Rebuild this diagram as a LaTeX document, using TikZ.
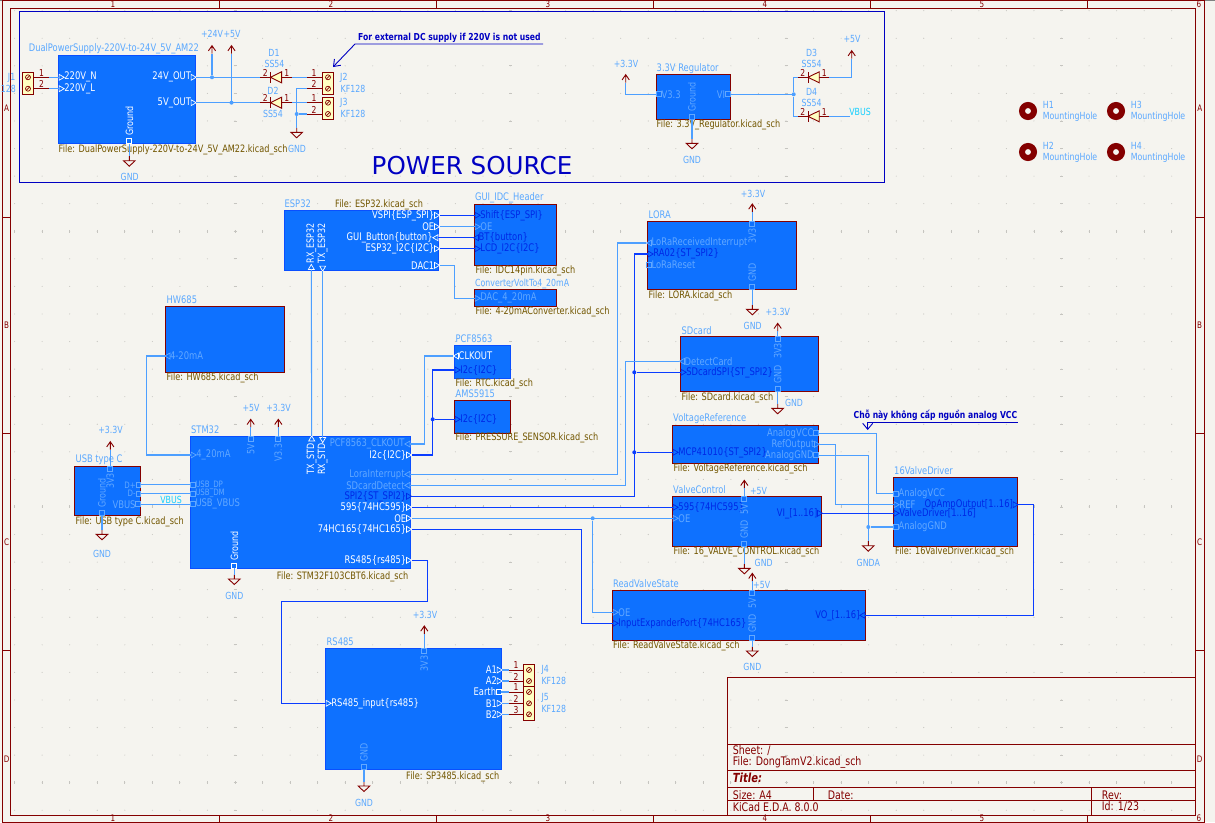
\documentclass[tikz,border=0pt]{standalone}
\usepackage{fontspec}
\setmainfont{DejaVu Sans}[FakeStretch=0.8]
\newfontfamily\bigfont{DejaVu Sans}
\usetikzlibrary{shapes.geometric,arrows.meta}

\definecolor{paperbg}{HTML}{F5F4EF}
\definecolor{griddot}{HTML}{C6C5C0}
\definecolor{symred}{HTML}{840000}
\definecolor{termfill}{HTML}{FFFFC2}
\definecolor{sheetfill}{HTML}{0E71FF}
\definecolor{sheetline}{HTML}{0A4FFF}
\definecolor{wireblue}{HTML}{4D9FFF}
\definecolor{busblue}{HTML}{0A3CFF}
\definecolor{busdark}{HTML}{0028E6}
\definecolor{pindim}{HTML}{62A8FF}
\definecolor{netblue}{HTML}{5AA8FF}
\definecolor{filebrown}{HTML}{725600}
\definecolor{noteblue}{HTML}{0000C2}
\definecolor{vbuscyan}{HTML}{14CFFF}

\tikzset{
  sheetr/.style 2 args={draw=symred,fill=sheetfill,line width=0.9,minimum width=#1,minimum height=#2,anchor=north west,inner sep=0,outer sep=0},
  sheetb/.style 2 args={draw=sheetline,fill=sheetfill,line width=0.9,minimum width=#1,minimum height=#2,anchor=north west,inner sep=0,outer sep=0},
  pinbase/.style={inner sep=0,outer sep=0,line width=0.7,label distance=1.6},
  pinbox/.style={pinbase,rectangle,minimum size=5},
  pindia/.style={pinbase,regular polygon,regular polygon sides=4,minimum size=6.5},
  pinr/.style={pinbase,regular polygon,regular polygon sides=3,minimum size=6.8,shape border rotate=-90},
  pinl/.style={pinbase,regular polygon,regular polygon sides=3,minimum size=6.8,shape border rotate=90},
  pinu/.style={pinbase,regular polygon,regular polygon sides=3,minimum size=6.8},
  pind/.style={pinbase,regular polygon,regular polygon sides=3,minimum size=6.8,shape border rotate=180},
  pinlbl/.style={inner sep=0,font=\fontsize{10.5}{11}\selectfont},
  pinlblv/.style={inner sep=0,font=\fontsize{10}{11}\selectfont,rotate=90},
  wl/.style={draw=white,label={[pinlbl,text=white]#1}},
  dl/.style={draw=pindim,label={[pinlbl,text=pindim]#1}},
  dlsmall/.style={draw=pindim,label={[pinlbl,text=pindim,font=\fontsize{8.8}{9}\selectfont]#1}},
  bl/.style={draw=busdark,label={[pinlbl,text=busdark]#1}},
  sheetname/.style={inner sep=0,anchor=west,text=netblue,font=\fontsize{10.4}{11}\selectfont},
  sheetfile/.style={inner sep=0,anchor=west,text=filebrown,font=\fontsize{10.2}{11}\selectfont},
  netlbl/.style={inner sep=0,text=netblue,font=\fontsize{9.8}{11}\selectfont},
  reflbl/.style={netlbl,anchor=west},
  smalllbl/.style={inner sep=0,anchor=west,text=netblue,font=\fontsize{9.8}{11}\selectfont},
  pinnum/.style={inner sep=0,text=symred,font=\fontsize{9.5}{11}\selectfont},
  frametxt/.style={inner sep=0,text=symred,font=\fontsize{9}{10}\selectfont},
  blocktxt/.style={inner sep=0,anchor=west,text=symred,font=\fontsize{11.8}{12}\selectfont},
  notetxt/.style={inner sep=0,anchor=west,text=noteblue,font=\bfseries\fontsize{#1}{11}\selectfont},
  wire/.style={draw=wireblue,line width=1.1},
  bus/.style={draw=busblue,line width=1.3},
  symb/.style={draw=symred,line width=0.9},
  junc/.style={circle,fill=wireblue,inner sep=0,minimum size=4},
  juncb/.style={circle,fill=busblue,inner sep=0,minimum size=4},
  termbox/.style={symb,fill=termfill,minimum width=11.4,anchor=north west,inner sep=0,outer sep=0},
  screw/.style={circle,draw=symred,line width=0.7,inner sep=0,minimum size=5,path picture={\draw[symred,line width=0.7] (path picture bounding box.south west) -- (path picture bounding box.north east);}},
  hole/.style={circle,draw=symred,line width=6,inner sep=0,minimum size=12},
  pwrarrow/.pic={
    \coordinate (-base) at (0,8);
    \draw[symb] (0,8) -- (0,0) (-3.6,5.2) -- (0,0) -- (3.6,5.2);
  },
  gndsym/.pic={
    \coordinate (-base) at (0,-4.5);
    \draw[symb] (0,-4.5) -- (0,0) (-5.8,0) -- (5.8,0) -- (0,5.5) -- cycle;
  },
  diode/.pic={
    \coordinate (-a) at (-15.8,0);
    \coordinate (-k) at (15.8,0);
    \draw[symb] (-15.8,0) -- (-5.6,0) (5.6,0) -- (15.8,0) (-5.6,-5.5) -- (-5.6,5.5);
    \draw[symb,fill=termfill] (-5.6,0) -- (5.6,-5.5) -- (5.6,5.5) -- cycle;
    \node[pinnum] (-n2) at (-10.8,-4.4) {2};
    \node[pinnum] (-n1) at (10.8,-4.4) {1};
  }
}

\begin{document}
\begin{tikzpicture}[x=1pt,y=-1pt]
  \useasboundingbox (0,0) rectangle (1215,822);
  \fill[paperbg] (0,0) rectangle (1215,822);

  % grid
  \foreach \i in {0,...,42}
    \foreach \j in {0,...,29}
      \fill[griddot] (14.6+27.55*\i,10.7+27.57*\j) circle (0.55);
  \foreach \i in {8,18,28,38}
    \foreach \j in {0,...,29}
      \draw[griddot,line width=0.9] (13.1+27.55*\i,10.7+27.57*\j) -- (16.1+27.55*\i,10.7+27.57*\j);
  \foreach \j in {8,18,28}
    \foreach \i in {0,...,42}
      \draw[griddot,line width=0.9] (14.6+27.55*\i,9.2+27.57*\j) -- (14.6+27.55*\i,12.2+27.57*\j);

  % page frame
  \draw[gray] (0,0.4) -- (1215,0.4);
  \draw[symred,line width=0.9] (2.7,0.9) rectangle (1204.3,822.5);
  \draw[symred,line width=0.9] (10.7,8.5) rectangle (1195.3,815.3);
  \foreach \xx in {219.5,436.3,653.3,870.3,1087.3} {
    \draw[symred,line width=0.9] (\xx,0.9) -- (\xx,8.5);
    \draw[symred,line width=0.9] (\xx,815.3) -- (\xx,822);
  }
  \foreach \yy in {217,433.5,650.5} {
    \draw[symred,line width=0.9] (2.7,\yy) -- (10.7,\yy);
    \draw[symred,line width=0.9] (1195.3,\yy) -- (1204.3,\yy);
  }
  \foreach \xx/\cc in {113/1,331/2,548/3,765/4,982/5,1199/6} {
    \node[frametxt] (colt\cc) at (\xx,4.6) {\cc};
    \node[frametxt] (colb\cc) at (\xx,818.6) {\cc};
  }
  \foreach \yy/\rr in {108.3/A,325/B,542/C,759/D} {
    \node[frametxt] (rowl\rr) at (6.7,\yy) {\rr};
    \node[frametxt] (rowr\rr) at (1199.7,\yy) {\rr};
  }

  % title block
  \draw[symred,line width=0.9] (727.3,677) rectangle (1195.3,815.3);
  \draw[symred,line width=0.9] (727.3,744.3) -- (1195.3,744.3) (727.3,770.3) -- (1195.3,770.3) (727.3,787.3) -- (1195.3,787.3) (727.3,800.3) -- (1195.3,800.3);
  \draw[symred,line width=0.9] (813.7,787.3) -- (813.7,800.3) (1091.3,787.3) -- (1091.3,815.3);
  \node[blocktxt] (tbsheet) at (732.7,750.7) {Sheet: /};
  \node[blocktxt] (tbfile) at (732.7,762.7) {File: DongTamV2.kicad\_sch};
  \node[blocktxt,font=\bfseries\itshape\fontsize{12.5}{13}\selectfont] (tbtitle) at (732.7,778.3) {Title:};
  \node[blocktxt] (tbsize) at (732.7,795) {Size: A4};
  \node[blocktxt] (tbdate) at (827.7,795) {Date:};
  \node[blocktxt] (tbrev) at (1101.7,795) {Rev:};
  \node[blocktxt] (tbkicad) at (732.7,806.7) {KiCad E.D.A. 8.0.0};
  \node[blocktxt] (tbid) at (1101.7,806.7) {Id: 1/23};

  % power source frame and notes
  \draw[noteblue,line width=0.9] (19.4,11.4) rectangle (884.4,182.4);
  \node[inner sep=0,text=noteblue,font=\bigfont\fontsize{24.6}{28}\selectfont] (powertitle) at (472,166) {POWER SOURCE};
  \node[notetxt=9.6] (note1) at (358,38) {For external DC supply if 220V is not used};
  \coordinate (note1a) at (543,44);
  \coordinate (note1b) at (355,44);
  \coordinate (note1c) at (333,67);
  \draw[noteblue,line width=0.9,-{Straight Barb[length=6,width=9]}] (note1a) -- (note1b) -- (note1c);
  \node[notetxt=9.6] (note2) at (853.5,415.7) {Chỗ này không cấp nguồn analog VCC};
  \coordinate (note2a) at (1017.7,422.3);
  \coordinate (note2b) at (867.7,422.3);
  \coordinate (note2c) at (867.7,430);
  \draw[noteblue,line width=0.9,-{Straight Barb[length=6,width=10]}] (note2a) -- (note2b) -- (note2c);

  % sheets
  \node[sheetb={137}{88.4}] (dual) at (58.3,55.3) {};
  \node[sheetr={74}{44.6}] (reg) at (656.3,74.7) {};
  \node[sheetb={154.4}{59.6}] (esp) at (284.3,210.7) {};
  \node[sheetr={82.4}{60.6}] (gui) at (474.3,204.7) {};
  \node[sheetr={82.4}{17}] (conv) at (474.3,289.3) {};
  \node[sheetr={118.6}{65.6}] (hw) at (165.7,306.7) {};
  \node[sheetb={56.4}{32.6}] (pcf) at (454.3,345.7) {};
  \node[sheetr={56.4}{33}] (ams) at (454.3,400.3) {};
  \node[sheetb={220.4}{131.6}] (stm) at (190.3,436.7) {};
  \node[sheetr={66.4}{49}] (usb) at (74.3,466.3) {};
  \node[sheetb={176}{120.6}] (rs) at (325.3,648.7) {};
  \node[sheetr={149.4}{68}] (lora) at (647.3,221.3) {};
  \node[sheetr={138.4}{55}] (sd) at (680.3,336.3) {};
  \node[sheetr={146.4}{38}] (vr) at (672.3,425.3) {};
  \node[sheetr={149.4}{49.6}] (vc) at (672.3,496.7) {};
  \node[sheetr={124}{69}] (vd) at (893.3,477.3) {};
  \node[sheetr={253.4}{49.6}] (rv) at (612.3,590.7) {};

  % sheet names and files
  \node[sheetname] (dualname) at (28.7,49) {DualPowerSupply-220V-to-24V\_5V\_AM22};
  \node[sheetfile] (dualfile) at (58.5,149.5) {File: DualPowerSupply-220V-to-24V\_5V\_AM22.kicad\_sch};
  \node[sheetname] (regname) at (656.5,69) {3.3V Regulator};
  \node[sheetfile] (regfile) at (656.5,125) {File: 3.3V\_Regulator.kicad\_sch};
  \node[sheetname] (espname) at (284.5,203.7) {ESP32};
  \node[sheetfile] (espfile) at (335,204.7) {File: ESP32.kicad\_sch};
  \node[sheetname] (guiname) at (475,198) {GUI\_IDC\_Header};
  \node[sheetfile] (guifile) at (475.5,270.7) {File: IDC14pin.kicad\_sch};
  \node[sheetname,font=\fontsize{9.8}{11}\selectfont] (convname) at (475,284) {ConverterVoltTo4\_20mA};
  \node[sheetfile] (convfile) at (475.5,312) {File: 4-20mAConverter.kicad\_sch};
  \node[sheetname] (hwname) at (166.5,300) {HW685};
  \node[sheetfile] (hwfile) at (166.5,378) {File: HW685.kicad\_sch};
  \node[sheetname] (pcfname) at (455.5,338.7) {PCF8563};
  \node[sheetfile] (pcffile) at (455.5,383.7) {File: RTC.kicad\_sch};
  \node[sheetname] (amsname) at (455.5,393.3) {AMS5915};
  \node[sheetfile] (amsfile) at (455.5,438.3) {File: PRESSURE\_SENSOR.kicad\_sch};
  \node[sheetname] (stmname) at (191,429.3) {STM32};
  \node[sheetfile] (stmfile) at (276.7,576.7) {File: STM32F103CBT6.kicad\_sch};
  \node[sheetname] (usbname) at (75.5,460) {USB type C};
  \node[sheetfile] (usbfile) at (75.5,521.7) {File: USB type C.kicad\_sch};
  \node[sheetname] (rsname) at (326.5,641.7) {RS485};
  \node[sheetfile] (rsfile) at (406,776.7) {File: SP3485.kicad\_sch};
  \node[sheetname] (loraname) at (648.5,214.7) {LORA};
  \node[sheetfile] (lorafile) at (648.5,295.7) {File: LORA.kicad\_sch};
  \node[sheetname] (sdname) at (681.5,330.7) {SDcard};
  \node[sheetfile] (sdfile) at (681.5,397.7) {File: SDcard.kicad\_sch};
  \node[sheetname] (vrname) at (673,418.7) {VoltageReference};
  \node[sheetfile] (vrfile) at (673.5,469) {File: VoltageReference.kicad\_sch};
  \node[sheetname] (vcname) at (673,490) {ValveControl};
  \node[sheetfile] (vcfile) at (673.5,551.7) {File: 16\_VALVE\_CONTROL.kicad\_sch};
  \node[sheetname] (vdname) at (894,471) {16ValveDriver};
  \node[sheetfile] (vdfile) at (895,551.7) {File: 16ValveDriver.kicad\_sch};
  \node[sheetname] (rvname) at (613,584) {ReadValveState};
  \node[sheetfile] (rvfile) at (613,645.7) {File: ReadValveState.kicad\_sch};

  % pins
  \node[pinr,wl={right:220V\_N}] (dualn) at (60.8,77.3) {};
  \node[pinr,wl={right:220V\_L}] (duall) at (60.8,88.7) {};
  \node[pinr,wl={left:24V\_OUT}] (dual24) at (192.8,77.3) {};
  \node[pinr,wl={left:5V\_OUT}] (dual5) at (192.8,102.7) {};
  \node[pinbox,draw=white] (dualgnd) at (129.3,141) {};
  \node[pinlblv,text=white,anchor=west] (dualgndt) at (129.3,136) {Ground};

  \node[pinbox,dl={right:V3.3}] (regv33) at (658.8,94.3) {};
  \node[pinbox,dl={left:VI}] (regvi) at (727.8,94.3) {};
  \node[pinbox,draw=pindim] (reggnd) at (692,116.8) {};
  \node[pinlblv,text=pindim,anchor=west] (reggndt) at (692,112) {Ground};

  \node[pinr,wl={left:VSPI\{ESP\_SPI\}}] (espspi) at (436.2,215.3) {};
  \node[pinr,wl={left:OE}] (espoe) at (436.2,226.7) {};
  \node[pinl,wl={left:GUI\_Button\{button\}}] (espbtn) at (436.2,237.7) {};
  \node[pinr,wl={left:ESP32\_I2C\{I2C\}}] (espi2c) at (436.2,248.7) {};
  \node[pinr,wl={left:DAC1}] (espdac) at (436.2,265.3) {};
  \node[pinu,draw=white] (esprx) at (311.3,267.8) {};
  \node[pinlblv,text=white,anchor=west] (esprxt) at (311.3,263.5) {RX\_ESP32};
  \node[pind,draw=white] (esptx) at (322.7,267.8) {};
  \node[pinlblv,text=white,anchor=west] (esptxt) at (322.7,263.5) {TX\_ESP32};

  \node[pinr,bl={right:Shift\{ESP\_SPI\}}] (guispi) at (476.8,215.3) {};
  \node[pinr,dl={right:OE}] (guioe) at (476.8,226.7) {};
  \node[pinl,bl={right:BT\{button\}}] (guibtn) at (476.8,237.7) {};
  \node[pinr,bl={right:LCD\_I2C\{I2C\}}] (guii2c) at (476.8,248.7) {};
  \node[pinr,dl={right:DAC\_4\_20mA}] (convdac) at (476.8,298.3) {};
  \node[pinl,dl={right:4-20mA}] (hwma) at (168.2,356) {};
  \node[pinl,wl={right:CLKOUT}] (pcfclk) at (456.8,356) {};
  \node[pinr,bl={right:I2c\{I2C\}}] (pcfi2c) at (456.8,370) {};
  \node[pinr,bl={right:I2c\{I2C\}}] (amsi2c) at (456.8,419.3) {};

  \node[pinl,dl={left:PCF8563\_CLKOUT}] (stmclk) at (408.2,444) {};
  \node[pinr,wl={left:I2c\{I2C\}}] (stmi2c) at (408.2,455) {};
  \node[pinl,dl={left:LoraInterrupt}] (stmlora) at (408.2,474.3) {};
  \node[pinl,dl={left:SDcardDetect}] (stmsd) at (408.2,485.3) {};
  \node[pinr,bl={left:SPI2\{ST\_SPI2\}}] (stmspi) at (408.2,496.3) {};
  \node[pinr,wl={left:595\{74HC595\}}] (stm595) at (408.2,507.3) {};
  \node[pinr,wl={left:OE}] (stmoe) at (408.2,518.3) {};
  \node[pinr,wl={left:74HC165\{74HC165\}}] (stmhc) at (408.2,529.3) {};
  \node[pinr,wl={left:RS485\{rs485\}}] (stmrs) at (408.2,560.3) {};
  \node[pinr,dl={right:4\_20mA}] (stmma) at (192.8,455) {};
  \node[pindia,dlsmall={right:USB\_DP}] (stmdp) at (192.8,484.9) {};
  \node[pindia,dlsmall={right:USB\_DM}] (stmdm) at (192.8,493.7) {};
  \node[pinbox,dl={right:USB\_VBUS}] (stmvbus) at (192.8,504.3) {};
  \node[pinbox,draw=pindim] (stm5v) at (250.7,439.2) {};
  \node[pinlblv,text=pindim,anchor=east] (stm5vt) at (250.7,443.5) {5V};
  \node[pinbox,draw=pindim] (stm33) at (278.3,439.2) {};
  \node[pinlblv,text=pindim,anchor=east] (stm33t) at (278.3,443.5) {V3.3};
  \node[pinu,draw=white] (stmtx) at (311.7,439.2) {};
  \node[pinlblv,text=white,anchor=east] (stmtxt) at (311.7,443.5) {TX\_STD};
  \node[pind,draw=white] (stmrx) at (322.7,439.2) {};
  \node[pinlblv,text=white,anchor=east] (stmrxt) at (322.7,443.5) {RX\_STD};
  \node[pinbox,draw=white] (stmgnd) at (234.3,565.8) {};
  \node[pinlblv,text=white,anchor=west] (stmgndt) at (234.3,561) {Ground};

  \node[pindia,dlsmall={left:D+}] (usbdp) at (138.2,484.9) {};
  \node[pindia,dlsmall={left:D-}] (usbdm) at (138.2,493.7) {};
  \node[pinbox,dl={left:VBUS}] (usbvbus) at (138.2,504.3) {};
  \node[pinbox,draw=pindim] (usb33) at (110.3,468.8) {};
  \node[pinlblv,text=pindim,anchor=east] (usb33t) at (110.3,473) {3V3};
  \node[pinbox,draw=pindim] (usbgnd) at (102,512.8) {};
  \node[pinlblv,text=pindim,anchor=west] (usbgndt) at (102,508) {Ground};

  \node[pinr,wl={right:RS485\_input\{rs485\}}] (rsin) at (327.8,703.3) {};
  \node[pinr,wl={left:A1}] (rsa1) at (498.8,670) {};
  \node[pinr,wl={left:A2}] (rsa2) at (498.8,681) {};
  \node[pinbox,wl={left:Earth}] (rsearth) at (498.8,692) {};
  \node[pinr,wl={left:B1}] (rsb1) at (498.8,703.3) {};
  \node[pinr,wl={left:B2}] (rsb2) at (498.8,714.3) {};
  \node[pinbox,draw=pindim] (rs33) at (424.3,651.2) {};
  \node[pinlblv,text=pindim,anchor=east] (rs33t) at (424.3,655.5) {3V3};
  \node[pinbox,draw=pindim] (rsgnd) at (364,766.8) {};
  \node[pinlblv,text=pindim,anchor=west] (rsgndt) at (364,762) {GND};

  \node[pinl,dl={right:LoRaReceivedInterrupt}] (lorairq) at (649.8,243) {};
  \node[pinr,bl={right:RA02\{ST\_SPI2\}}] (lorara) at (649.8,254) {};
  \node[pinbox,dl={right:LoRaReset}] (lorarst) at (648.8,265) {};
  \node[pinbox,draw=pindim] (lora33) at (752.3,223.8) {};
  \node[pinlblv,text=pindim,anchor=east] (lora33t) at (752.3,228) {3V3};
  \node[pinbox,draw=pindim] (loragnd) at (752.3,286.8) {};
  \node[pinlblv,text=pindim,anchor=west] (loragndt) at (752.3,282) {GND};

  \node[pinl,dl={right:DetectCard}] (sddet) at (682.8,361.3) {};
  \node[pinr,bl={right:SDcardSPI\{ST\_SPI2\}}] (sdspi) at (682.8,372.3) {};
  \node[pinbox,draw=pindim] (sd33) at (777.7,338.8) {};
  \node[pinlblv,text=pindim,anchor=east] (sd33t) at (777.7,343) {3V3};
  \node[pinbox,draw=pindim] (sdgnd) at (777.7,388.8) {};
  \node[pinlblv,text=pindim,anchor=west] (sdgndt) at (777.7,384) {GND};

  \node[pinr,bl={right:MCP41010\{ST\_SPI2\}}] (vrspi) at (674.8,452.3) {};
  \node[pinbox,dl={left:AnalogVCC}] (vrvcc) at (816.2,433.3) {};
  \node[pinr,dl={left:RefOutput}] (vrref) at (816.2,444.3) {};
  \node[pinbox,dl={left:AnalogGND}] (vrgnd) at (816.2,455.3) {};

  \node[pinr,bl={right:595\{74HC595\}}] (vc595) at (674.8,507.3) {};
  \node[pinr,dl={right:OE}] (vcoe) at (674.8,518.3) {};
  \node[pinr,bl={left:VI\_[1..16]}] (vcvi) at (819.2,513.3) {};
  \node[pinbox,draw=pindim] (vc5v) at (744.3,499.2) {};
  \node[pinlblv,text=pindim,anchor=east] (vc5vt) at (744.3,503.5) {5V};
  \node[pinbox,draw=pindim] (vcgnd) at (744.3,543.8) {};
  \node[pinlblv,text=pindim,anchor=west] (vcgndt) at (744.3,539) {GND};

  \node[pinbox,dl={right:AnalogVCC}] (vdvcc) at (895.8,493.7) {};
  \node[pinr,dl={right:REF}] (vdref) at (895.8,504.7) {};
  \node[pinr,bl={right:ValveDriver[1..16]}] (vdin) at (895.8,513.3) {};
  \node[pinbox,dl={right:AnalogGND}] (vdgnd) at (895.8,527) {};
  \node[pinr,bl={left:OpAmpOutput[1..16]}] (vdop) at (1014.8,504.7) {};

  \node[pinr,dl={right:OE}] (rvoe) at (614.8,612.3) {};
  \node[pinr,bl={right:InputExpanderPort\{74HC165\}}] (rvin) at (614.8,623.3) {};
  \node[pinl,bl={left:VO\_[1..16]}] (rvvo) at (863.2,615.3) {};
  \node[pinbox,draw=pindim] (rv5v) at (752.3,593.2) {};
  \node[pinlblv,text=pindim,anchor=east] (rv5vt) at (752.3,597.5) {5V};
  \node[pinbox,draw=pindim] (rvgnd) at (752.3,637.8) {};
  \node[pinlblv,text=pindim,anchor=west] (rvgndt) at (752.3,633) {GND};

  % power symbols
  \pic (p24) at (212,45.7) {pwrarrow};
  \pic (p5a) at (231.5,45.7) {pwrarrow};
  \pic (p33a) at (625.7,74.7) {pwrarrow};
  \pic (p5b) at (851.7,50.7) {pwrarrow};
  \pic (p5c) at (250.7,419.3) {pwrarrow};
  \pic (p33b) at (278.3,419.3) {pwrarrow};
  \pic (p33c) at (110.3,441.7) {pwrarrow};
  \pic (p33d) at (424.3,626) {pwrarrow};
  \pic (p33e) at (752.3,204) {pwrarrow};
  \pic (p33f) at (777.7,323.3) {pwrarrow};
  \pic (p5d) at (744.3,480.3) {pwrarrow};
  \pic (p5e) at (752.3,573.3) {pwrarrow};
  \pic (g1) at (129.3,160.7) {gndsym};
  \pic (g2) at (296.7,132.3) {gndsym};
  \pic (g3) at (692,143.3) {gndsym};
  \pic (g4) at (234.3,579) {gndsym};
  \pic (g5) at (102,534.3) {gndsym};
  \pic (g6) at (364,786) {gndsym};
  \pic (g7) at (752.3,309.3) {gndsym};
  \pic (g8) at (777.7,408.3) {gndsym};
  \pic (g9) at (744.3,568.3) {gndsym};
  \pic (g10) at (752.3,651) {gndsym};
  \pic (g11) at (868.3,545.7) {gndsym};

  \node[netlbl] (l24) at (212,33.5) {+24V};
  \node[netlbl] (l5a) at (232,33.5) {+5V};
  \node[netlbl] (l33a) at (626,64) {+3.3V};
  \node[netlbl] (l5b) at (852,39) {+5V};
  \node[netlbl] (l5c) at (251,408) {+5V};
  \node[netlbl] (l33b) at (278.5,408) {+3.3V};
  \node[netlbl] (l33c) at (110.5,430.3) {+3.3V};
  \node[netlbl] (l33d) at (425,615) {+3.3V};
  \node[netlbl] (l33e) at (753,193.5) {+3.3V};
  \node[netlbl] (l33f) at (777.7,312.3) {+3.3V};
  \node[netlbl] (l5d) at (758.5,491) {+5V};
  \node[netlbl] (l5e) at (761.7,584.7) {+5V};
  \node[netlbl] (lg1) at (129.7,176.7) {GND};
  \node[netlbl] (lg2) at (297,149) {GND};
  \node[netlbl] (lg3) at (692,160) {GND};
  \node[netlbl] (lg4) at (234.3,595.5) {GND};
  \node[netlbl] (lg5) at (102,554) {GND};
  \node[netlbl] (lg6) at (364,802.5) {GND};
  \node[netlbl] (lg7) at (752.7,325.7) {GND};
  \node[netlbl] (lg8) at (794,402.7) {GND};
  \node[netlbl] (lg9) at (763.7,562.7) {GND};
  \node[netlbl] (lg10) at (752.3,667.3) {GND};
  \node[netlbl] (lg11) at (868.3,562.7) {GNDA};
  \node[netlbl,text=vbuscyan] (lvb1) at (860,111.7) {VBUS};
  \node[netlbl,text=vbuscyan] (lvb2) at (171,500) {VBUS};
  \coordinate (vbusend) at (850,116.3);

  % diodes
  \pic (d1) at (276,77.3) {diode};
  \pic (d2) at (276,102.7) {diode};
  \pic (d3) at (813.6,77.3) {diode};
  \pic (d4) at (813.6,116.3) {diode};
  \node[netlbl] (d1ref) at (274,53) {D1};
  \node[netlbl] (d1val) at (274.5,64) {SS54};
  \node[netlbl] (d2ref) at (273,91) {D2};
  \node[netlbl] (d2val) at (273,114) {SS54};
  \node[netlbl] (d3ref) at (811.7,52.7) {D3};
  \node[netlbl] (d3val) at (811.7,64) {SS54};
  \node[netlbl] (d4ref) at (811.7,91.7) {D4};
  \node[netlbl] (d4val) at (811.7,102.7) {SS54};

  % connectors
  \node[termbox,minimum height=22.3] (j1box) at (22.3,72) {};
  \node[termbox,minimum height=22.3] (j2box) at (322.3,72) {};
  \node[termbox,minimum height=22.3] (j3box) at (322.3,97.3) {};
  \node[termbox,minimum height=22] (j4box) at (523.3,664.7) {};
  \node[termbox,minimum height=33.3] (j5box) at (523.3,686.7) {};
  \foreach \yy/\nn in {77.3/1,88.7/2} {
    \draw[symb] (33.7,\yy) -- (49,\yy);
    \node[screw] (j1s\nn) at (28,\yy) {};
    \node[pinnum] (j1n\nn) at (41.5,\yy-4.5) {\nn};
    \coordinate (j1p\nn) at (49,\yy);
  }
  \foreach \pref/\yy/\nn in {j2/77.3/1,j2/88.7/2,j3/102.7/1,j3/114/2} {
    \draw[symb] (307,\yy) -- (322.3,\yy);
    \node[screw] (\pref s\nn) at (328,\yy) {};
    \node[pinnum] (\pref n\nn) at (314,\yy-4.5) {\nn};
    \coordinate (\pref p\nn) at (307,\yy);
  }
  \foreach \pref/\yy/\nn in {j4/670/1,j4/681/2,j5/692/1,j5/703.3/2,j5/714.3/3} {
    \draw[symb] (509.3,\yy) -- (523.3,\yy);
    \node[screw] (\pref s\nn) at (529,\yy) {};
    \node[pinnum] (\pref n\nn) at (516,\yy-4.5) {\nn};
    \coordinate (\pref p\nn) at (509.3,\yy);
  }
  \node[netlbl,anchor=east] (j1ref) at (15.5,77.5) {J1};
  \node[netlbl,anchor=east] (j1val) at (16,88.7) {128};
  \node[reflbl] (j2ref) at (340,77.5) {J2};
  \node[reflbl] (j2val) at (340.5,88.7) {KF128};
  \node[reflbl] (j3ref) at (340,102.7) {J3};
  \node[reflbl] (j3val) at (340.5,114) {KF128};
  \node[reflbl] (j4ref) at (541.3,670) {J4};
  \node[reflbl] (j4val) at (541.3,681) {KF128};
  \node[reflbl] (j5ref) at (541.3,697.5) {J5};
  \node[reflbl] (j5val) at (541.3,708.7) {KF128};

  % mounting holes
  \foreach \nn/\xx/\yy in {1/1028/111,2/1028/152,3/1116/111,4/1116/152} {
    \node[hole] (h\nn) at (\xx,\yy) {};
    \node[smalllbl] (h\nn ref) at (\xx+14.7,\yy-6) {H\nn};
    \node[smalllbl] (h\nn val) at (\xx+14.7,\yy+5.5) {MountingHole};
  }

  % junctions
  \node[junc] (j24v) at (212,77.3) {};
  \node[junc] (j5v) at (231.5,102.7) {};
  \node[junc] (jgnd2) at (296.7,114) {};
  \node[junc] (jvi) at (793.7,94.3) {};
  \node[junc] (jgnda) at (868.3,527) {};
  \node[junc] (joe) at (592.7,518.3) {};
  \node[juncb] (ji2c) at (432.7,419.3) {};
  \node[juncb] (jsdspi) at (634.3,372.3) {};
  \node[juncb] (jvrspi) at (634.3,452.3) {};

  % wires
  \draw[wire] (dualn) -- (j1p1);
  \draw[wire] (duall) -- (j1p2);
  \draw[wire] (dual24) -- (d1-a);
  \draw[wire] (dual5) -- (d2-a);
  \draw[wire] (j24v) -- (p24-base);
  \draw[wire] (j5v) -- (p5a-base);
  \draw[wire] (d1-k) -- (j2p1);
  \draw[wire] (d2-k) -- (j3p1);
  \draw[wire] (j2p2) -| (g2-base);
  \draw[wire] (jgnd2) -- (j3p2);
  \draw[wire] (dualgnd) -- (g1-base);
  \draw[wire] (regv33) -| (p33a-base);
  \draw[wire] (reggnd) -- (g3-base);
  \draw[wire] (regvi) -- (jvi);
  \draw[wire] (d3-a) -| (jvi);
  \draw[wire] (d4-a) -| (jvi);
  \draw[wire] (d3-k) -| (p5b-base);
  \draw[wire] (d4-k) -- (vbusend);
  \draw[bus] (espspi) -- (guispi);
  \draw[wire] (espoe) -- (guioe);
  \draw[bus] (espbtn) -- (guibtn);
  \draw[bus] (espi2c) -- (guii2c);
  \draw[wire] (espdac) -| (454.3,280) |- (convdac);
  \draw[wire] (esprx) -- (stmtx);
  \draw[wire] (esptx) -- (stmrx);
  \draw[wire] (hwma) -| (146.3,400) |- (stmma);
  \draw[wire] (pcfclk) -| (424.3,400) |- (stmclk);
  \draw[bus] (pcfi2c) -| (432.7,400) |- (stmi2c);
  \draw[bus] (ji2c) -- (amsi2c);
  \draw[wire] (stm5v) -- (p5c-base);
  \draw[wire] (stm33) -- (p33b-base);
  \draw[wire] (stmgnd) -- (g4-base);
  \draw[wire] (usb33) -- (p33c-base);
  \draw[wire] (usbgnd) -- (g5-base);
  \draw[wire] (usbdp) -- (stmdp);
  \draw[wire] (usbdm) -- (stmdm);
  \draw[wire] (usbvbus) -- (stmvbus);
  \draw[bus] (stmrs) -| (427.3,601.3) -- (281.3,601.3) |- (rsin);
  \draw[wire] (rs33) -- (p33d-base);
  \draw[wire] (rsgnd) -- (g6-base);
  \draw[wire] (rsa1) -- (j4p1);
  \draw[wire] (rsa2) -- (j4p2);
  \draw[wire] (rsearth) -- (j5p1);
  \draw[wire] (rsb1) -- (j5p2);
  \draw[wire] (rsb2) -- (j5p3);
  \draw[wire] (lorairq) -| (617.3,400) |- (stmlora);
  \draw[bus] (lorara) -| (634.3,400) |- (stmspi);
  \draw[wire] (sddet) -| (625.4,400) |- (stmsd);
  \draw[bus] (jsdspi) -- (sdspi);
  \draw[bus] (jvrspi) -- (vrspi);
  \draw[wire] (lora33) -- (p33e-base);
  \draw[wire] (loragnd) -- (g7-base);
  \draw[wire] (sd33) -- (p33f-base);
  \draw[wire] (sdgnd) -- (g8-base);
  \draw[wire] (vrvcc) -| (876.3,470) |- (vdvcc);
  \draw[wire] (vrref) -| (835.3,470) |- (vdref);
  \draw[wire] (vrgnd) -| (g11-base);
  \draw[wire] (jgnda) -- (vdgnd);
  \draw[bus] (stm595) -- (vc595);
  \draw[wire] (stmoe) -- (vcoe);
  \draw[wire] (joe) |- (rvoe);
  \draw[bus] (stmhc) -| (581.3,600) |- (rvin);
  \draw[bus] (vcvi) -- (vdin);
  \draw[bus] (vdop) -| (1033.3,560) |- (rvvo);
  \draw[wire] (vc5v) -- (p5d-base);
  \draw[wire] (vcgnd) -- (g9-base);
  \draw[wire] (rv5v) -- (p5e-base);
  \draw[wire] (rvgnd) -- (g10-base);
\end{tikzpicture}
\end{document}
